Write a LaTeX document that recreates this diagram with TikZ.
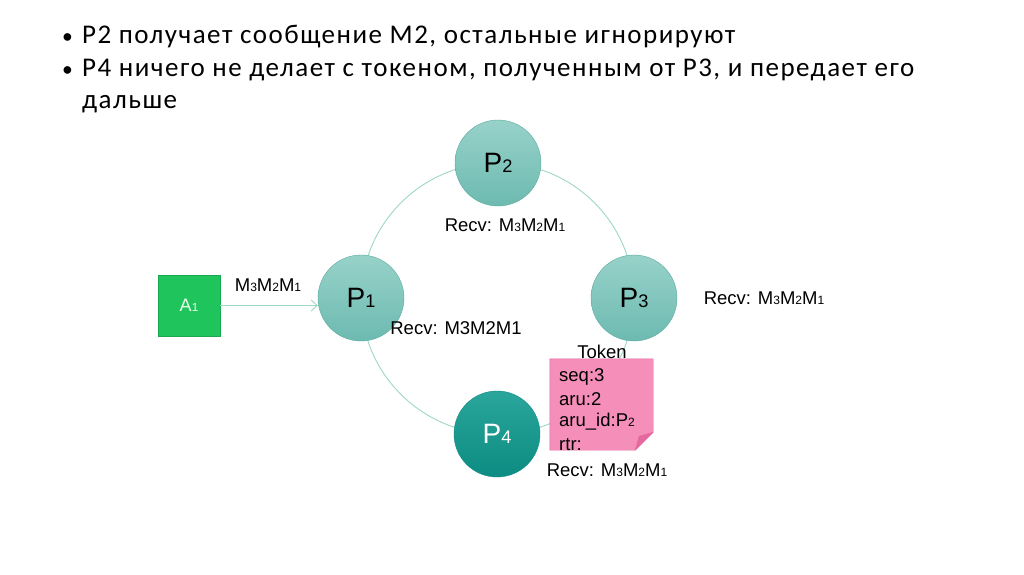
\documentclass[tikz,border=0pt]{standalone}
\usepackage{fontspec}
\usepackage{graphicx}
\setmainfont{Liberation Sans}
\newfontfamily\slidefont[LetterSpace=5.5]{Carlito}
\usetikzlibrary{arrows.meta,backgrounds}

\definecolor{ringline}{HTML}{9FD8C2}
\definecolor{proctop}{HTML}{97D2C9}
\definecolor{procbot}{HTML}{6DBAB1}
\definecolor{procedge}{HTML}{5AAA9F}
\definecolor{activetop}{HTML}{2AA69C}
\definecolor{activebot}{HTML}{0C8C82}
\definecolor{appgreen}{HTML}{1FC45C}
\definecolor{appedge}{HTML}{18A84D}
\definecolor{notepink}{HTML}{F58FBA}
\definecolor{noteedge}{HTML}{E2669C}
\definecolor{notefold}{HTML}{E4699F}

\newcommand{\sub}[1]{\scalebox{0.65}{#1}}

\begin{document}
\begin{tikzpicture}[x=1pt,y=-1pt,
    proc/.style={circle, minimum size=86pt, inner sep=0pt, draw=procedge,
      top color=proctop, bottom color=procbot,
      font=\fontsize{28}{30}\selectfont},
    activeproc/.style={proc, draw=activebot, top color=activetop,
      bottom color=activebot, text=white},
    ring/.style={draw=ringline, line width=0.9pt},
    lbl/.style={font=\fontsize{18.5}{21}\selectfont, inner sep=1pt},
    bullet/.style={anchor=base west, inner sep=0pt,
      font=\slidefont\fontsize{27}{30}\selectfont, text=black}]

    % page
    \useasboundingbox (0,0) rectangle (1024,574);

    % slide text
    \node[bullet] (b1) at (62,43) {\scalebox{0.8}{\textbullet}};
    \node[bullet] (t1) at (82,43) {P2 получает сообщение M2, остальные игнорируют};
    \node[bullet] (b2) at (62,76) {\scalebox{0.8}{\textbullet}};
    \node[bullet] (t2) at (82,76) {P4 ничего не делает с токеном, полученным от P3, и передает его};
    \node[bullet] (t3) at (82,108) {дальше};

    % processes on the ring
    \node[proc] (p2) at (498,163) {P\sub{2}};
    \node[proc] (p1) at (361,298) {P\sub{1}};
    \node[proc] (p3) at (634,298) {P\sub{3}};
    \node[activeproc] (p4) at (497,434) {P\sub{4}};

    % ring
    \begin{scope}[on background layer]
      \fill[white] (0,0) rectangle (1024,574);
      \draw[ring] (p1.center) to[bend left=45] (p2.center);
      \draw[ring] (p2.center) to[bend left=45] (p3.center);
      \draw[ring] (p3.center) to[bend left=45] (p4.center);
      \draw[ring] (p4.center) to[bend left=45] (p1.center);
    \end{scope}

    % application
    \node[draw=appedge, fill=appgreen, minimum width=62pt, minimum height=61pt,
      inner sep=0pt, text=green!8, font=\fontsize{18}{20}\selectfont]
      (a1) at (189,305.5) {A\sub{1}};
    \draw[ring, -{Straight Barb[length=6pt,width=11pt]}] (a1.east) -- (p1.west |- a1.east);
    \node[lbl] (msg) at (268,285) {M\sub{3}M\sub{2}M\sub{1}};

    % received messages
    \node[lbl] (recv2) at (505,225) {Recv: M\sub{3}M\sub{2}M\sub{1}};
    \node[lbl] (recv1) at (456,328) {Recv: M3M2M1};
    \node[lbl] (recv3) at (764,298) {Recv: M\sub{3}M\sub{2}M\sub{1}};
    \node[lbl] (recv4) at (607,470) {Recv: M\sub{3}M\sub{2}M\sub{1}};

    % token note
    \node[minimum width=103pt, minimum height=91pt, inner sep=0pt] (note) at (601.5,404.5) {};
    \fill[notepink, draw=noteedge] (note.north west) -- (note.north east)
      -- ([yshift=18pt]note.south east) -- ([xshift=-18pt]note.south east)
      -- (note.south west) -- cycle;
    \fill[notefold, draw=noteedge] ([yshift=18pt]note.south east)
      -- ([xshift=-18pt]note.south east) -- ([xshift=-14pt,yshift=14pt]note.south east) -- cycle;
    \node[lbl] (tok) at (602,352) {Token};
    \begin{scope}[every node/.style={lbl, anchor=west}]
      \node (seq) at (558,377) {seq:3};
      \node (aru) at (558,399) {aru:2};
      \node (aruid) at (558,422) {aru\_id:P\sub{2}};
      \node (rtr) at (558,445) {rtr:};
    \end{scope}
\end{tikzpicture}
\end{document}
